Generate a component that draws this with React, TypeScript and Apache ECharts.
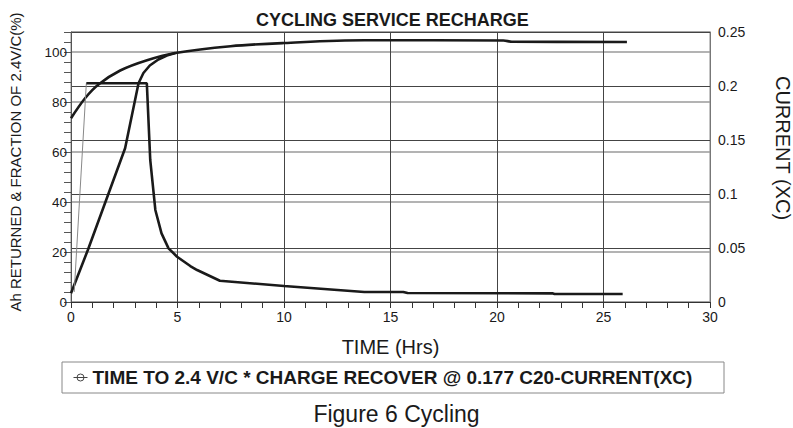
import React, { useEffect, useRef } from 'react';
import * as echarts from 'echarts';

const TITLE = 'CYCLING SERVICE RECHARGE';
const CAPTION = 'Figure 6 Cycling';
const X_NAME = 'TIME (Hrs)';
const LEFT_NAME = 'Ah RETURNED & FRACTION OF 2.4V/C(%)';
const RIGHT_NAME = 'CURRENT (XC)';
const LEGEND_TEXT = 'TIME TO 2.4 V/C * CHARGE RECOVER @ 0.177 C20-CURRENT(XC)';

// Charge recovered (% of Ah)
const recoverHrs = [0, 0.66, 1.29, 2.31, 3.57, 4.9, 7.49, 10, 13.77, 20.3, 20.7, 26.1];
const recoverPct = [73.5, 81.5, 87.0, 92.6, 96.7, 99.6, 102.3, 103.6, 104.7, 104.6, 104.1, 104.0];

// Time to 2.4 V/C (fraction %)
const voltHrs = [0, 0.8, 2.54, 3.17, 3.4, 3.7, 4.1, 4.5, 4.9];
const voltPct = [3.5, 21, 61.5, 87.5, 91.6, 94.6, 97.0, 98.6, 99.6];

// Current ramp (thin)
const rampHrs = [0.15, 0.72];
const rampXC = [0.0093, 0.2025];

// Current (XC)
const currentHrs = [0.72, 3.56, 3.72, 3.96, 4.25, 4.58, 4.98, 5.6, 5.92, 6.99, 10, 13.77, 15.6, 15.8, 22.6, 22.7, 25.9];
const currentXC = [0.2025, 0.2025, 0.1315, 0.0852, 0.0635, 0.0497, 0.0419, 0.0333, 0.0296, 0.0197, 0.0148, 0.0093, 0.0093, 0.0083, 0.008, 0.0074, 0.0074];

const zip = (xs: number[], ys: number[]) => xs.map((x, i) => [x, ys[i]]);

const FONT = 'Arial, "Liberation Sans", Helvetica, sans-serif';
const INK = '#1a1a1a';

export default function App() {
  const ref = useRef<HTMLDivElement>(null);
  useEffect(() => {
    if (!ref.current) return;
    const chart = echarts.init(ref.current, null, { renderer: 'svg' });
    const lineBase = { type: 'line', showSymbol: false, symbol: 'none' };
    chart.setOption({
      animation: false,
      backgroundColor: '#ffffff',
      textStyle: { fontFamily: FONT },
      title: [
        { text: TITLE, left: 251, top: 6, textStyle: { fontSize: 18, fontWeight: 'bold', color: INK, fontFamily: FONT } },
        { text: CAPTION, left: 'center', top: 397, textStyle: { fontSize: 23, fontWeight: 'normal', color: INK, fontFamily: FONT } },
      ],
      grid: { left: 71, right: 83, top: 32, bottom: 126, show: true, borderColor: '#888', borderWidth: 1, backgroundColor: 'transparent' },
      legend: {
        left: 73,
        top: 368,
        padding: 0,
        itemWidth: 14,
        itemHeight: 10,
        data: [{
          name: 'CURRENT(XC)',
          icon: 'path://M0,6L16,6M4,6a4,4 0 1,0 8,0a4,4 0 1,0 -8,0',
          itemStyle: { color: 'transparent', borderColor: '#444', borderWidth: 1 },
        }],
        formatter: () => LEGEND_TEXT,
        textStyle: { fontSize: 19, fontWeight: 'bold', color: INK, fontFamily: FONT },
        selectedMode: false,
      },
      graphic: [
        { type: 'rect', shape: { x: 62, y: 362, width: 662, height: 31 }, style: { fill: 'none', stroke: '#888', lineWidth: 1 } },
        { type: 'text', x: 15, y: 162, rotation: Math.PI / 2, style: { text: LEFT_NAME, fontSize: 15, fontFamily: FONT, fill: INK, align: 'center', verticalAlign: 'middle' } },
        { type: 'text', x: 783, y: 148, rotation: -Math.PI / 2, style: { text: RIGHT_NAME, fontSize: 20, fontFamily: FONT, fill: INK, align: 'center', verticalAlign: 'middle' } },
      ],
      xAxis: {
        type: 'value', min: 0, max: 30, interval: 5,
        name: X_NAME, nameLocation: 'middle', nameGap: 35,
        nameTextStyle: { fontSize: 20, color: INK, fontFamily: FONT },
        axisLine: { show: true, lineStyle: { color: '#333' } },
        axisTick: { show: true, length: 6, lineStyle: { color: '#333' } },
        minorTick: { show: true, splitNumber: 5, length: 6, lineStyle: { color: '#333' } },
        axisLabel: { fontSize: 14, color: INK, margin: 8, fontFamily: FONT },
        splitLine: { show: true, lineStyle: { color: '#444', width: 1 } },
      },
      yAxis: [
        {
          type: 'value', position: 'left', min: 0, max: 108, interval: 4,
          axisLine: { show: true, lineStyle: { color: '#555' } },
          axisTick: { show: true, length: 7, lineStyle: { color: '#555' } },
          axisLabel: { formatter: (v: number) => (v % 20 === 0 ? String(v) : ''), fontSize: 13.5, color: INK, margin: 4, fontFamily: FONT },
          splitLine: { show: false },
        },
        {
          type: 'value', position: 'left', min: 0, max: 108, interval: 20,
          axisLine: { show: false }, axisTick: { show: false }, axisLabel: { show: false },
          splitLine: { show: true, lineStyle: { color: '#9a9a9a', width: 1.5 } },
        },
        {
          type: 'value', position: 'right', min: 0, max: 0.25, interval: 0.05,
          axisLine: { show: true, lineStyle: { color: '#777' } },
          axisTick: { show: false },
          axisLabel: { fontSize: 14, color: INK, margin: 8, fontFamily: FONT },
          splitLine: { show: true, lineStyle: { color: '#444', width: 1 } },
        },
      ],
      series: [
        { ...lineBase, name: 'CHARGE RECOVER @ 0.177 C20', yAxisIndex: 0, smooth: 0.35, data: zip(recoverHrs, recoverPct), lineStyle: { color: INK, width: 2.6 } },
        { ...lineBase, name: 'TIME TO 2.4 V/C', yAxisIndex: 0, smooth: false, data: zip(voltHrs, voltPct), lineStyle: { color: INK, width: 2.6 } },
        { ...lineBase, name: 'CURRENT(XC) ramp', yAxisIndex: 2, smooth: false, data: zip(rampHrs, rampXC), lineStyle: { color: '#888', width: 1 } },
        { ...lineBase, name: 'CURRENT(XC)', yAxisIndex: 2, smooth: false, data: zip(currentHrs, currentXC), lineStyle: { color: INK, width: 2.6 } },
      ],
    });
    return () => chart.dispose();
  }, []);
  return <div ref={ref} style={{ width: 793, height: 428, position: 'absolute', left: 0, top: 0 }} />;
}
